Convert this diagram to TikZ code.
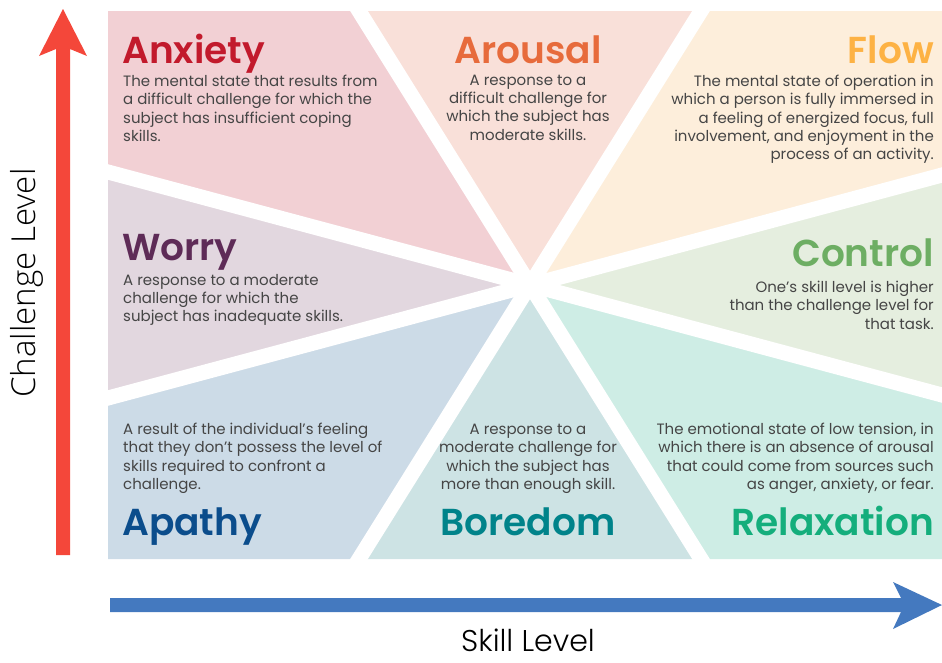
\documentclass[tikz,border=0pt]{standalone}
\usepackage{fontspec}
\usetikzlibrary{calc}
\setmainfont{Poppins}
\newfontfamily\popfam{Poppins}
\IfFontExistsTF{Poppins SemiBold}{\newfontfamily\mytitlefont{Poppins SemiBold}}{\def\mytitlefont{\popfam\bfseries}}
\IfFontExistsTF{Poppins Light}{\newfontfamily\myskillfont{Poppins Light}}{\def\myskillfont{\popfam}}
\IfFontExistsTF{Open Sans Light}{\newfontfamily\mychalfont{Open Sans Light}}{\newfontfamily\mychalfont{Open Sans}}
\definecolor{fAnx}{HTML}{F2D0D4}
\definecolor{fAro}{HTML}{F9E0D9}
\definecolor{fFlo}{HTML}{FDEEDB}
\definecolor{fCon}{HTML}{E5EEDF}
\definecolor{fRel}{HTML}{CEEDE5}
\definecolor{fBor}{HTML}{CDE3E4}
\definecolor{fApa}{HTML}{CCDBE7}
\definecolor{fWor}{HTML}{E2D7DF}
\definecolor{tAnx}{HTML}{C21A2C}
\definecolor{tAro}{HTML}{E76B3C}
\definecolor{tFlo}{HTML}{FDB244}
\definecolor{tCon}{HTML}{6DAE63}
\definecolor{tRel}{HTML}{14AE7C}
\definecolor{tBor}{HTML}{00838A}
\definecolor{tApa}{HTML}{0B4D8C}
\definecolor{tWor}{HTML}{5E2B57}
\definecolor{bodygray}{HTML}{454545}
\definecolor{redarrow}{HTML}{F4473A}
\definecolor{bluearrow}{HTML}{4479BF}
\begin{document}
\begin{tikzpicture}[x=1pt,y=-1pt,
  ttl/.style={font=\mytitlefont\fontsize{37.5}{44}\selectfont, inner sep=0},
  body/.style={font=\popfam\fontsize{15}{18.2}\selectfont, text=bodygray, inner sep=0},
  gapline/.style={white, line width=15pt},
  axislabel/.style={inner sep=0, text=black}]
\useasboundingbox (0,0) rectangle (942,662);
\coordinate (C) at (530,285);
\coordinate (L1) at (108,172);
\coordinate (L2) at (108,398);
\coordinate (R1) at (942,175);
\coordinate (R2) at (942,395);
\coordinate (T1) at (359,11);
\coordinate (T2) at (701,11);
\coordinate (B1) at (359,559);
\coordinate (B2) at (701,559);
% wedges
\fill[fAnx] (C) -- (L1) -- (108,11) -- (T1) -- cycle;
\fill[fAro] (C) -- (T1) -- (T2) -- cycle;
\fill[fFlo] (C) -- (T2) -- (942,11) -- (R1) -- cycle;
\fill[fCon] (C) -- (R1) -- (R2) -- cycle;
\fill[fRel] (C) -- (R2) -- (942,559) -- (B2) -- cycle;
\fill[fBor] (C) -- (B2) -- (B1) -- cycle;
\fill[fApa] (C) -- (B1) -- (108,559) -- (L2) -- cycle;
\fill[fWor] (C) -- (L2) -- (L1) -- cycle;
% white gaps
\begin{scope}
\clip (108,11) rectangle (942,559);
\draw[gapline] ($(L1)!-0.1!(R2)$) -- ($(L1)!1.1!(R2)$);
\draw[gapline] ($(L2)!-0.1!(R1)$) -- ($(L2)!1.1!(R1)$);
\draw[gapline] ($(T1)!-0.1!(B2)$) -- ($(T1)!1.1!(B2)$);
\draw[gapline] ($(T2)!-0.1!(B1)$) -- ($(T2)!1.1!(B1)$);
\end{scope}
% titles
\node[ttl, text=tAnx, anchor=base west] (anxT) at (122,63) {Anxiety};
\node[ttl, text=tAro, anchor=base] (aroT) at (528,63) {Arousal};
\node[ttl, text=tFlo, anchor=base east] (floT) at (934,63) {Flow};
\node[ttl, text=tWor, anchor=base west] (worT) at (122,260) {Worry};
\node[ttl, text=tCon, anchor=base east] (conT) at (934,266) {Control};
\node[ttl, text=tApa, anchor=base west] (apaT) at (122,535) {Apathy};
\node[ttl, text=tBor, anchor=base] (borT) at (528,535) {Boredom};
\node[ttl, text=tRel, anchor=base east] (relT) at (934,535) {Relaxation};
% bodies
\node[body, anchor=north west, align=left] (anxB) at (123,75) {The mental state that results from\\a difficult challenge for which the\\subject has insufficient coping\\skills.};
\node[body, anchor=north, align=center] (aroB) at (528,75) {A response to a\\difficult challenge for\\which the subject has\\moderate skills.};
\node[body, anchor=north east, align=right] (floB) at (934,75) {The mental state of operation in\\which a person is fully immersed in\\a feeling of energized focus, full\\involvement, and enjoyment in the\\process of an activity.};
\node[body, anchor=north west, align=left] (worB) at (123,274) {A response to a moderate\\challenge for which the\\subject has inadequate skills.};
\node[body, anchor=north east, align=right] (conB) at (934,281) {One’s skill level is higher\\than the challenge level for\\that task.};
\node[body, anchor=north west, align=left] (apaB) at (123,423) {A result of the individual’s feeling\\that they don’t possess the level of\\skills required to confront a\\challenge.};
\node[body, anchor=north, align=center] (borB) at (528,424) {A response to a\\moderate challenge for\\which the subject has\\more than enough skill.};
\node[body, anchor=north east, align=right] (relB) at (934,423) {The emotional state of low tension, in\\which there is an absence of arousal\\that could come from sources such\\as anger, anxiety, or fear.};
% axes
\fill[redarrow] (56,555) -- (56,49) -- (39,56) -- (63,9) -- (87,56) -- (70,49) -- (70,555) -- cycle;
\fill[bluearrow] (110,598) -- (901,598) -- (893,582) -- (942,605) -- (893,629) -- (901,612) -- (110,612) -- cycle;
\node[axislabel, rotate=90, font=\mychalfont\fontsize{33}{38}\selectfont, anchor=base] (chal) at (35,283) {Challenge Level};
\node[axislabel, font=\myskillfont\fontsize{30}{36}\selectfont, anchor=base] (skill) at (528,651) {Skill Level};
\end{tikzpicture}
\end{document}
